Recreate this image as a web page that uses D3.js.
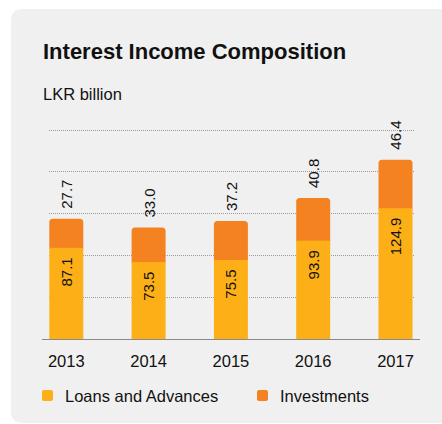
<!DOCTYPE html>
<html>
<head>
<meta charset="utf-8">
<script src="https://cdn.jsdelivr.net/npm/d3@7"></script>
<style>
  html, body { margin: 0; padding: 0; background: #ffffff; }
  svg { display: block; font-family: "Liberation Sans", Arial, Helvetica, sans-serif; }
</style>
</head>
<body>
<svg id="chart" width="442" height="424"></svg>
<script>
const years = ["2013", "2014", "2015", "2016", "2017"];
const loans = [87.1, 73.5, 75.5, 93.9, 124.9];
const investments = [27.7, 33.0, 37.2, 40.8, 46.4];
const gridTicks = [40, 80, 120, 160, 200];
const seriesNames = ["Loans and Advances", "Investments"];
const colors = ["#FCAF17", "#F58220"];

const svg = d3.select("#chart");

// panel
svg.append("rect")
  .attr("x", 11).attr("y", 9)
  .attr("width", 450).attr("height", 414)
  .attr("rx", 10).attr("ry", 10)
  .attr("fill", "#f0f0f0");

svg.append("text")
  .attr("x", 43).attr("y", 58.5)
  .attr("font-size", "22px").attr("font-weight", "bold")
  .attr("fill", "#111")
  .text("Interest Income Composition");

svg.append("text")
  .attr("x", 43).attr("y", 99.5)
  .attr("font-size", "16.5px")
  .attr("fill", "#111")
  .text("LKR billion");

const x = d3.scaleBand()
  .domain(years)
  .range([25.15, 436.65])
  .paddingInner(0.587)
  .paddingOuter(0.2935);

const y = d3.scaleLinear().domain([0, 200]).range([339, 129.6]);

// grid
svg.append("g").selectAll("line")
  .data(gridTicks)
  .join("line")
  .attr("x1", 49).attr("x2", 414)
  .attr("y1", d => Math.round(y(d)) + 0.5)
  .attr("y2", d => Math.round(y(d)) + 0.5)
  .attr("stroke", "#9a9a9a")
  .attr("stroke-width", 1)
  .attr("stroke-dasharray", "1,1");

const data = years.map((yr, i) => ({ yr, loans: loans[i], inv: investments[i], total: loans[i] + investments[i] }));
const bw = x.bandwidth();
const r = 3.5;

function topRounded(x0, y0, w, h, rad) {
  return `M${x0},${y0 + h} L${x0},${y0 + rad} Q${x0},${y0} ${x0 + rad},${y0} L${x0 + w - rad},${y0} Q${x0 + w},${y0} ${x0 + w},${y0 + rad} L${x0 + w},${y0 + h} Z`;
}

const bars = svg.append("g");
// investments (top, rounded)
bars.selectAll("path.inv")
  .data(data)
  .join("path")
  .attr("class", "inv")
  .attr("fill", colors[1])
  .attr("d", d => topRounded(x(d.yr), y(d.total), bw, y(d.loans) - y(d.total) + 1, r));
// loans
bars.selectAll("rect.loan")
  .data(data)
  .join("rect")
  .attr("class", "loan")
  .attr("fill", colors[0])
  .attr("x", d => x(d.yr))
  .attr("y", d => y(d.loans))
  .attr("width", bw)
  .attr("height", d => y(0) - y(d.loans));

// axis line
svg.append("line")
  .attr("x1", 42).attr("x2", 420)
  .attr("y1", 339.5).attr("y2", 339.5)
  .attr("stroke", "#8a8a8a").attr("stroke-width", 1.2);

// x labels
svg.append("g").selectAll("text")
  .data(years)
  .join("text")
  .attr("x", d => x(d) + bw / 2)
  .attr("y", 366.5)
  .attr("text-anchor", "middle")
  .attr("font-size", "16.5px")
  .attr("fill", "#111")
  .text(d => d);

// value labels: inside loans
svg.append("g").selectAll("text")
  .data(data)
  .join("text")
  .attr("transform", d => `translate(${x(d.yr) + bw / 2},${y(d.loans) + 9.5}) rotate(-90)`)
  .attr("text-anchor", "end")
  .attr("dy", "0.36em")
  .attr("font-size", "15px")
  .attr("fill", "#111")
  .text(d => d.loans.toFixed(1));

// value labels: above bars
svg.append("g").selectAll("text")
  .data(data)
  .join("text")
  .attr("transform", d => `translate(${x(d.yr) + bw / 2 + 0.5},${y(d.total) - 10}) rotate(-90)`)
  .attr("text-anchor", "start")
  .attr("dy", "0.36em")
  .attr("font-size", "15px")
  .attr("fill", "#111")
  .text(d => d.inv.toFixed(1));

// legend
const legendX = [42, 257];
const lg = svg.append("g");
lg.selectAll("rect")
  .data(seriesNames)
  .join("rect")
  .attr("x", (d, i) => legendX[i]).attr("y", 390)
  .attr("width", 11).attr("height", 11)
  .attr("rx", 2)
  .attr("fill", (d, i) => colors[i]);
lg.selectAll("text")
  .data(seriesNames)
  .join("text")
  .attr("x", (d, i) => legendX[i] + 23)
  .attr("y", 401.5)
  .attr("font-size", "16.5px")
  .attr("fill", "#111")
  .text(d => d);
</script>
</body>
</html>
